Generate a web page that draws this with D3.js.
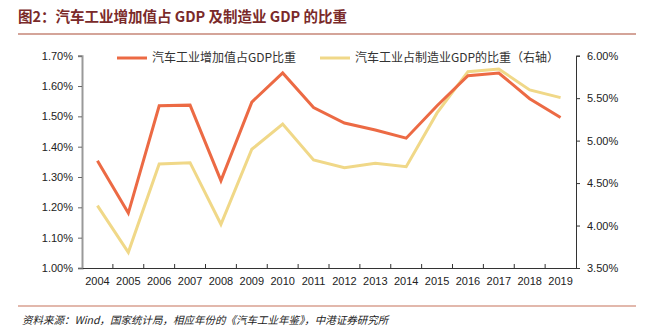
<!DOCTYPE html>
<html><head><meta charset="utf-8">
<script src="https://cdn.jsdelivr.net/npm/d3@7"></script>
<style>
body{margin:0;background:#fff;}
svg{display:block;font-family:"Liberation Sans",Arial,"Noto Sans CJK SC",sans-serif;}
</style></head>
<body><svg id="c" width="646" height="334"></svg>
<script>
const years = ["2004","2005","2006","2007","2008","2009","2010","2011","2012","2013","2014","2015","2016","2017","2018","2019"];
const autoShareGDP = [1.354,1.181,1.535,1.537,1.288,1.547,1.643,1.529,1.478,1.455,1.428,1.535,1.634,1.643,1.558,1.496];
const autoShareMfg = [4.234,3.685,4.725,4.740,4.015,4.898,5.196,4.772,4.681,4.733,4.693,5.326,5.812,5.844,5.597,5.506];
const leftTicks = [1.0,1.1,1.2,1.3,1.4,1.5,1.6,1.7];
const rightTicks = [3.5,4.0,4.5,5.0,5.5,6.0];
const seriesNames = ["汽车工业增加值占GDP比重","汽车工业占制造业GDP的比重（右轴）"];
const titleText = "图2：汽车工业增加值占 GDP 及制造业 GDP 的比重";
const sourceText = "资料来源：Wind，国家统计局，相应年份的《汽车工业年鉴》，中港证券研究所";

const svg = d3.select("#c");
const L = 82, R = 576, T = 55.7, B = 268;
const x = d3.scaleBand().domain(years).range([L, R]);
const yL = d3.scaleLinear().domain([1.0,1.7]).range([B, T]);
const yR = d3.scaleLinear().domain([3.5,6.0]).range([B, T]);

// title
svg.append("text").attr("x",18).attr("y",22).text(titleText)
  .attr("font-size",14.5).attr("font-weight","bold").attr("fill","#7a2a2a")
  .attr("font-family","'Noto Sans CJK SC',sans-serif");
svg.append("line").attr("x1",18).attr("x2",636).attr("y1",34).attr("y2",34)
  .attr("stroke","#a94a35").attr("stroke-width",1.2);

// axes
const axL = d3.axisLeft(yL).tickValues(leftTicks).tickFormat(d=>d.toFixed(2)+"%").tickSize(4).tickPadding(5);
const gL = svg.append("g").attr("transform",`translate(${L},0)`).call(axL);
gL.select(".domain").attr("stroke","#999").attr("stroke-width",2);
gL.selectAll(".tick line").attr("stroke","#666");
const axR = d3.axisRight(yR).tickValues(rightTicks).tickFormat(d=>d.toFixed(2)+"%").tickSize(4).tickPadding(7);
const gR = svg.append("g").attr("transform",`translate(${R},0)`).call(axR);
gR.select(".domain").attr("stroke","#333");
gR.selectAll(".tick line").attr("stroke","#333");
const axB = d3.axisBottom(x).tickSize(0).tickPadding(9);
const gB = svg.append("g").attr("transform",`translate(0,${B})`).call(axB);
gB.select(".domain").attr("stroke","#333");
// category boundary ticks
gB.selectAll(".bt").data(years.slice(1)).enter().append("line")
  .attr("x1",d=>x(d)).attr("x2",d=>x(d)).attr("y1",0).attr("y2",-4).attr("stroke","#333");
[gL,gR,gB].forEach(g=>g.selectAll(".tick text").attr("font-size",11).attr("fill","#222")
  .attr("font-family","'Liberation Sans',Arial,sans-serif"));

const cx = d => x(d) + x.bandwidth()/2;
const colors = ["#ec6a44","#f0d888"];
const line1 = d3.line().x((d,i)=>cx(years[i])).y(d=>yL(d));
const line2 = d3.line().x((d,i)=>cx(years[i])).y(d=>yR(d));
svg.append("path").attr("d",line2(autoShareMfg)).attr("fill","none").attr("stroke",colors[1]).attr("stroke-width",3);
svg.append("path").attr("d",line1(autoShareGDP)).attr("fill","none").attr("stroke",colors[0]).attr("stroke-width",3);

// legend
const leg = [{x:117,c:colors[0],t:seriesNames[0]},{x:320,c:colors[1],t:seriesNames[1]}];
leg.forEach(l=>{
  svg.append("line").attr("x1",l.x).attr("x2",l.x+30).attr("y1",58).attr("y2",58).attr("stroke",l.c).attr("stroke-width",3);
  svg.append("text").attr("x",l.x+35).attr("y",62).text(l.t).attr("font-size",12).attr("fill","#333")
    .attr("font-family","'Noto Sans CJK SC',sans-serif");
});

// bottom rule & source
svg.append("line").attr("x1",18).attr("x2",636).attr("y1",306).attr("y2",306)
  .attr("stroke","#d9a190").attr("stroke-width",1.5);
svg.append("text").attr("x",22).attr("y",324).text(sourceText).attr("font-size",10.5)
  .attr("font-style","italic").attr("fill","#222").attr("font-family","'Noto Sans CJK SC',sans-serif");
</script></body></html>
